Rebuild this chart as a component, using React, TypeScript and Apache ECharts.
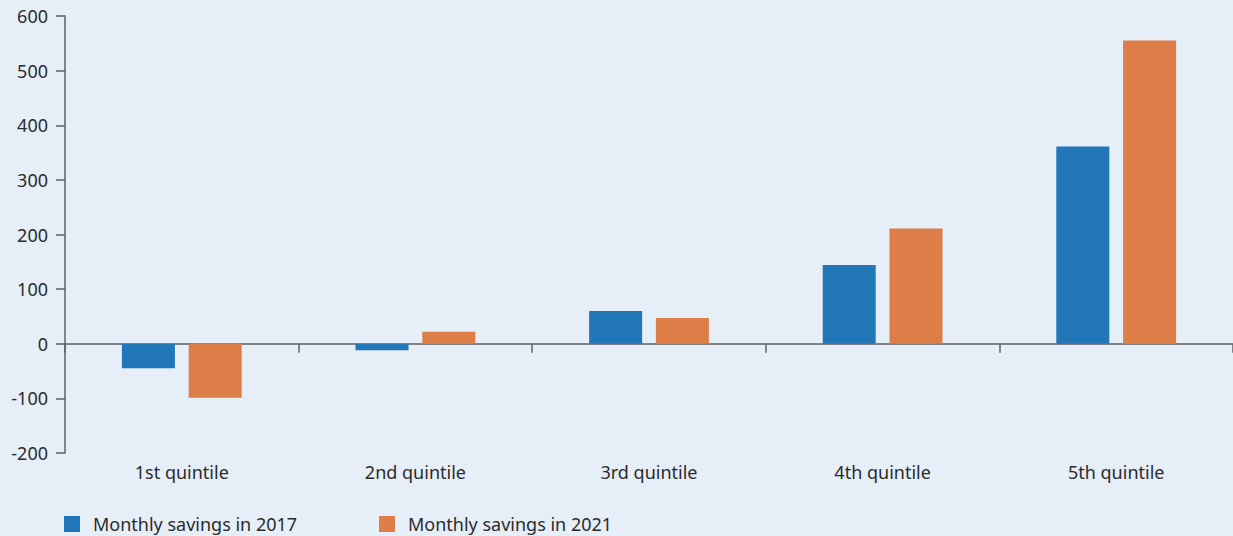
import React, { useEffect, useRef } from "react";
import * as echarts from "echarts";

const categories = ["1st quintile", "2nd quintile", "3rd quintile", "4th quintile", "5th quintile"];
const savings2017 = [-45, -12, 60, 144, 361];
const savings2021 = [-99, 22, 47, 211, 555];
const seriesNames = ["Monthly savings in 2017", "Monthly savings in 2021"];
const yTicks = { min: -200, max: 600, interval: 100 };

const BLUE = "#2277b9";
const ORANGE = "#dd7d47";
const FONT = "'Noto Sans', 'Open Sans', sans-serif";
const TEXT = "#2b2b2b";
const AXIS = "#5f6266";

const legendBase = {
  top: 515,
  padding: 0,
  itemWidth: 16,
  itemHeight: 16,
  icon: "rect",
  textStyle: { fontSize: 18, color: TEXT, fontFamily: FONT, padding: [0, 0, 0, 8] },
};

export default function App() {
  const ref = useRef<HTMLDivElement>(null);

  useEffect(() => {
    if (!ref.current) return;
    const chart = echarts.init(ref.current, undefined, { renderer: "svg" });
    chart.setOption({
      animation: false,
      backgroundColor: "#e6eef8",
      textStyle: { fontFamily: FONT },
      grid: { left: 65, right: 0, top: 16, bottom: 83, containLabel: false },
      legend: [
        { ...legendBase, data: [seriesNames[0]], left: 64 },
        { ...legendBase, data: [seriesNames[1]], left: 379 },
      ],
      xAxis: [
        {
          type: "category",
          data: categories,
          position: "bottom",
          axisLine: { show: false, onZero: false },
          axisTick: { show: false },
          axisLabel: { fontSize: 18, color: TEXT, margin: 10, fontFamily: FONT },
        },
        {
          type: "category",
          data: categories,
          position: "bottom",
          axisLine: { show: true, onZero: true, lineStyle: { color: AXIS, width: 1.5 } },
          axisTick: { show: true, length: 9, lineStyle: { color: AXIS, width: 1.5 } },
          axisLabel: { show: false },
        },
      ],
      yAxis: {
        type: "value",
        min: yTicks.min,
        max: yTicks.max,
        interval: yTicks.interval,
        axisLine: { show: true, lineStyle: { color: AXIS, width: 1.5 } },
        axisTick: { show: true, length: 9, lineStyle: { color: AXIS, width: 1.5 } },
        axisLabel: { fontSize: 18, color: TEXT, margin: 17, fontFamily: FONT },
        splitLine: { show: false },
      },
      series: [
        {
          name: seriesNames[0],
          type: "bar",
          xAxisIndex: 0,
          data: savings2017,
          barWidth: 53,
          barGap: "26%",
          itemStyle: { color: BLUE },
        },
        {
          name: seriesNames[1],
          type: "bar",
          xAxisIndex: 0,
          data: savings2021,
          barWidth: 53,
          barGap: "26%",
          itemStyle: { color: ORANGE },
        },
      ],
    });
    return () => chart.dispose();
  }, []);

  return (
    <div
      ref={ref}
      style={{ position: "fixed", left: 0, top: 0, width: 1233, height: 536 }}
    />
  );
}
